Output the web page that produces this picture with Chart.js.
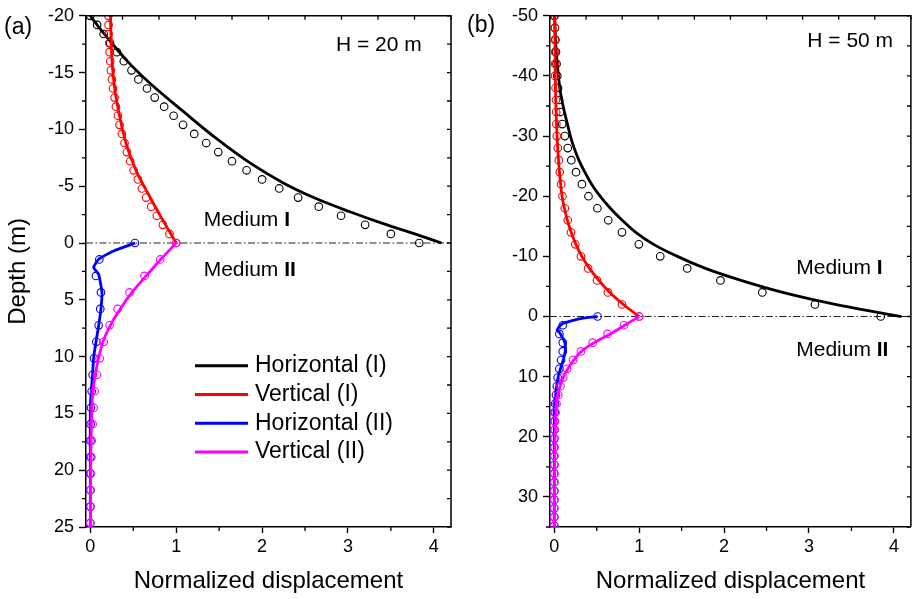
<!DOCTYPE html>
<html>
<head>
<meta charset="utf-8">
<script src="https://cdn.jsdelivr.net/npm/chart.js"></script>
<style>
  html, body { margin: 0; padding: 0; background: #fff; }
  #wrap { position: relative; width: 916px; height: 599px; }
  canvas { position: absolute; top: 0; }
  #panelA { left: 0; }
  #panelB { left: 458px; }
</style>
</head>
<body>
<div id="wrap">
  <canvas id="panelA" width="458" height="599"></canvas>
  <canvas id="panelB" width="458" height="599"></canvas>
</div>
<script>
// Series shared by both panels
const seriesLabels = ['Horizontal (I)', 'Vertical (I)', 'Horizontal (II)', 'Vertical (II)'];
const seriesColors = ['#000000', '#ff0000', '#0000ff', '#ff00ff'];
const interfaceDepth = 0;

// Panel (a), H = 20 m ---------------------------------------------------------
// circles, medium I
const depthA_I = [-20, -19.2, -18.4, -17.6, -16.8, -16, -15.2, -14.4, -13.6, -12.8, -12, -11.2, -10.4,
  -9.6, -8.8, -8, -7.2, -6.4, -5.6, -4.8, -4, -3.2, -2.4, -1.6, -0.8, 0];
const horizA_I = [0, 0.08, 0.155, 0.23, 0.31, 0.39, 0.48, 0.56, 0.66, 0.75, 0.86, 0.97, 1.08,
  1.21, 1.35, 1.49, 1.65, 1.82, 2.0, 2.2, 2.42, 2.66, 2.92, 3.2, 3.5, 3.83];
const vertA_I = [0.21, 0.213, 0.213, 0.221, 0.225, 0.233, 0.24, 0.252, 0.264, 0.283, 0.298, 0.322, 0.341,
  0.368, 0.399, 0.426, 0.465, 0.504, 0.554, 0.601, 0.651, 0.709, 0.775, 0.845, 0.922, 1.0];
// circles, medium II
const depthA_II = [0, 1.45, 2.9, 4.35, 5.8, 7.25, 8.7, 10.15, 11.6, 13.05, 14.5, 15.95, 17.4, 18.85,
  20.3, 21.75, 23.2, 24.65];
const horizA_II = [0.52, 0.105, 0.066, 0.124, 0.116, 0.097, 0.07, 0.043, 0.027, 0.016, 0.008, 0.004,
  0.002, 0.001, 0, 0, 0, 0];
const vertA_II = [1.0, 0.814, 0.632, 0.457, 0.318, 0.225, 0.155, 0.109, 0.078, 0.05, 0.039, 0.027,
  0.016, 0.012, 0.008, 0.004, 0.004, 0];
// curves
const horizA_I_lineDepth = [-20, -18.8, -17.6, -16.1, -14.06, -11.58, -9.18, -7.05, -5.29, -3.89, -2.75, -1.7, -0.82, 0];
const horizA_I_line = [0, 0.12, 0.25, 0.42, 0.695, 1.083, 1.471, 1.859, 2.247, 2.635, 3.023, 3.411, 3.77, 4.09];
const vertA_I_lineDepth = [-20, -17.4, -14.5, -11.6, -8.95, -6.6, -4.25, -2.2, -1.1, 0];
const vertA_I_line = [0.235, 0.244, 0.27, 0.33, 0.41, 0.52, 0.68, 0.83, 0.915, 1.0];
const horizA_II_lineDepth = [0, 0.7, 1.43, 2.16, 2.75, 4.36, 5.82, 7.28, 8.74, 10.06, 11.52, 12.98, 14.45, 20, 25];
const horizA_II_line = [0.523, 0.271, 0.097, 0.039, 0.097, 0.136, 0.124, 0.097, 0.066, 0.039, 0.027, 0.012, 0, 0, 0];
const vertA_II_lineDepth = [0, 1.45, 2.9, 4.35, 5.8, 7.25, 8.7, 10.15, 11.6, 13.05, 14.5, 17, 20, 25];
const vertA_II_line = [1.0, 0.82, 0.65, 0.485, 0.35, 0.233, 0.147, 0.097, 0.058, 0.031, 0.019, 0.01, 0.005, 0];

// Panel (b), H = 50 m ---------------------------------------------------------
const depthB_I = [-50, -48, -46, -44, -42, -40, -38, -36, -34, -32, -30, -28, -26, -24, -22, -20,
  -18, -16, -14, -12, -10, -8, -6, -4, -2, 0];
const horizB_I = [0, 0.008, 0.014, 0.02, 0.027, 0.035, 0.045, 0.056, 0.071, 0.094, 0.124, 0.159, 0.201,
  0.256, 0.326, 0.403, 0.508, 0.636, 0.798, 0.996, 1.248, 1.566, 1.957, 2.45, 3.07, 3.845];
const vertB_I = [0.005, 0.007, 0.007, 0.01, 0.01, 0.01, 0.015, 0.02, 0.023, 0.025, 0.03, 0.042, 0.054,
  0.065, 0.081, 0.097, 0.124, 0.159, 0.197, 0.248, 0.314, 0.399, 0.504, 0.632, 0.798, 1.0];
const depthB_II = [0, 1.45, 2.9, 4.35, 5.8, 7.25, 8.7, 10.15, 11.6, 13.05, 14.5, 15.95, 17.4, 18.85,
  20.3, 21.75, 23.2, 24.65, 26.1, 27.55, 29, 30.45, 31.9, 33.35, 34.8];
const horizB_II = [0.51, 0.10, 0.06, 0.10, 0.10, 0.08, 0.06, 0.04, 0.03, 0.02, 0.01, 0.005, 0.003,
  0.002, 0.001, 0, 0, 0, 0, 0, 0, 0, 0, 0, 0];
const vertB_II = [1.0, 0.821, 0.628, 0.453, 0.314, 0.221, 0.151, 0.105, 0.073, 0.047, 0.027, 0.015,
  0.007, 0.005, 0.004, 0.003, 0.002, 0.002, 0.001, 0.001, 0, 0, 0, 0, 0];
const horizB_I_lineDepth = [-50, -46, -42, -40, -38, -36, -34, -32, -30, -28, -26, -24, -22, -20, -18,
  -16, -14, -12, -10, -8, -6, -4, -2, -1, 0];
const horizB_I_line = [0.005, 0.015, 0.035, 0.05, 0.065, 0.09, 0.12, 0.155, 0.19, 0.235, 0.29, 0.36,
  0.44, 0.54, 0.66, 0.80, 0.96, 1.17, 1.45, 1.78, 2.20, 2.69, 3.31, 3.68, 4.09];
const vertB_I_lineDepth = [-50, -40, -34, -30, -26, -22, -20, -18, -16, -14, -12, -10, -8, -6, -4, -2, 0];
const vertB_I_line = [0.005, 0.012, 0.022, 0.033, 0.05, 0.075, 0.092, 0.12, 0.155, 0.2, 0.255, 0.325,
  0.415, 0.525, 0.655, 0.815, 1.0];
const horizB_II_lineDepth = [0, 0.35, 1.2, 2.2, 2.9, 4.25, 5.6, 7.3, 8.7, 10, 11.7, 13.1, 14.4, 20, 35];
const horizB_II_line = [0.51, 0.31, 0.093, 0.035, 0.073, 0.123, 0.131, 0.105, 0.073, 0.047, 0.027, 0.015, 0.003, 0, 0];
const vertB_II_lineDepth = [0, 1.45, 2.9, 4.35, 5.8, 7.25, 8.7, 10, 12, 14, 16, 20, 25, 35];
const vertB_II_line = [1.0, 0.83, 0.66, 0.47, 0.32, 0.23, 0.16, 0.11, 0.06, 0.03, 0.02, 0.01, 0.005, 0];

// Axis ranges
const dispRange = [-0.05, 4.2];
const depthRangeA = [-20, 25];
const depthRangeB = [-50, 35];

const FONT = '"Liberation Sans", Arial, Helvetica, sans-serif';
Chart.defaults.font.family = FONT;
Chart.defaults.color = '#000';

const pairs = (xs, ys) => xs.map((x, i) => ({ x, y: ys[i] }));

// smooth curve; 'monotone' is used where the displacement keeps growing along the curve
function curve(i, xs, ys, smooth) {
  const ds = {
    label: seriesLabels[i], data: pairs(xs, ys), showLine: true,
    borderColor: seriesColors[i], borderWidth: 2.8, pointRadius: 0, fill: false
  };
  if (smooth === 'monotone') ds.cubicInterpolationMode = 'monotone';
  else ds.tension = smooth;
  return ds;
}
function circles(i, xs, ys) {
  return {
    label: seriesLabels[i] + ' pts', data: pairs(xs, ys), showLine: false,
    borderColor: seriesColors[i], backgroundColor: 'rgba(0,0,0,0)',
    pointRadius: 3.8, pointBorderWidth: 1.1, pointStyle: 'circle'
  };
}

// draws text made of normal/bold pieces
function drawParts(ctx, parts, x, y, size, align) {
  ctx.textBaseline = 'middle';
  ctx.textAlign = 'left';
  const widths = parts.map(p => {
    ctx.font = (p.bold ? 'bold ' : '') + size + 'px ' + FONT;
    return ctx.measureText(p.text).width;
  });
  const total = widths.reduce((a, b) => a + b, 0);
  let cx = align === 'right' ? x - total : x;
  parts.forEach((p, i) => {
    ctx.font = (p.bold ? 'bold ' : '') + size + 'px ' + FONT;
    ctx.fillText(p.text, cx, y);
    cx += widths[i];
  });
}

// half-step positions between the major ticks of a scale
function halfSteps(scale) {
  const major = scale.ticks.map(t => t.value);
  const out = [];
  if (major.length < 2) return out;
  const half = Math.abs(major[1] - major[0]) / 2;
  if (!(half > 0)) return out;
  const first = Math.ceil((scale.min - 1e-9) / half);
  const last = Math.floor((scale.max + 1e-9) / half);
  for (let k = first; k <= last && out.length < 200; k++) {
    const v = k * half;
    out.push({ v, major: major.some(m => Math.abs(m - v) < 1e-6) });
  }
  return out;
}

// interface line, frame, minor ticks, notes and legend
const panelDecor = {
  id: 'panelDecor',
  beforeDatasetsDraw(chart) {
    const { ctx, chartArea: a, scales: { y } } = chart;
    const py = y.getPixelForValue(interfaceDepth);
    ctx.save();
    ctx.strokeStyle = '#222';
    ctx.lineWidth = 1;
    ctx.setLineDash([7, 2.5, 1.5, 2.5]);
    ctx.beginPath();
    ctx.moveTo(a.left, py);
    ctx.lineTo(a.right, py);
    ctx.stroke();
    ctx.restore();
  },
  afterDraw(chart, args, opts) {
    const { ctx, chartArea: a, scales: { x, y } } = chart;
    ctx.save();
    ctx.strokeStyle = '#000';
    ctx.fillStyle = '#000';
    ctx.lineWidth = 1.5;

    // top and right frame
    ctx.beginPath();
    ctx.moveTo(a.left, a.top); ctx.lineTo(a.right, a.top); ctx.lineTo(a.right, a.bottom);
    ctx.stroke();

    ctx.lineWidth = 1.3;
    ctx.beginPath();
    halfSteps(x).forEach(t => {
      const px = x.getPixelForValue(t.v);
      if (!t.major) { ctx.moveTo(px, a.bottom); ctx.lineTo(px, a.bottom + 4); }
    });
    halfSteps(y).forEach(t => {
      const py = y.getPixelForValue(t.v);
      if (!t.major) { ctx.moveTo(a.left, py); ctx.lineTo(a.left - 4, py); }
      ctx.moveTo(a.right, py); ctx.lineTo(a.right - 4, py);
    });
    for (let i = 0; i <= 10; i++) {
      const px = a.left + (a.right - a.left) * i / 10;
      ctx.moveTo(px, a.top); ctx.lineTo(px, a.top + 4);
    }
    ctx.stroke();

    // panel tag
    drawParts(ctx, [{ text: opts.tag }], opts.tagPos[0], opts.tagPos[1], 23, 'left');

    // notes placed in data coordinates
    opts.notes.forEach(n => {
      drawParts(ctx, n.parts, x.getPixelForValue(n.x), y.getPixelForValue(n.y), n.size, n.align);
    });

    // legend with line samples
    if (opts.legend) {
      const lx = a.left + opts.legend.dx;
      let ly = a.top + opts.legend.dy;
      seriesLabels.forEach((label, i) => {
        ctx.strokeStyle = seriesColors[i];
        ctx.lineWidth = 3;
        ctx.beginPath();
        ctx.moveTo(lx, ly); ctx.lineTo(lx + 53, ly);
        ctx.stroke();
        drawParts(ctx, [{ text: label }], lx + 60, ly, 23, 'left');
        ly += opts.legend.rowGap;
      });
    }
    ctx.restore();
  }
};

function makePanel(canvasId, cfg) {
  return new Chart(document.getElementById(canvasId), {
    type: 'scatter',
    data: { datasets: cfg.datasets },
    options: {
      responsive: false,
      animation: false,
      layout: { padding: { left: 0, top: 14, right: cfg.padRight, bottom: 0 } },
      plugins: {
        legend: { display: false },
        tooltip: { enabled: false },
        panelDecor: cfg.decor
      },
      scales: {
        x: {
          type: 'linear', min: dispRange[0], max: dispRange[1],
          ticks: { stepSize: 1, includeBounds: false, font: { size: 18 }, padding: 3, maxRotation: 0 },
          grid: { drawOnChartArea: false, drawTicks: true, tickLength: 6, tickColor: '#000', tickWidth: 1.4 },
          border: { display: true, color: '#000', width: 1.5 },
          title: { display: true, text: 'Normalized displacement', font: { size: 24 }, padding: { top: 0, bottom: 3 } },
          afterFit: (s) => { s.height = 72; }
        },
        y: {
          type: 'linear', reverse: true, min: cfg.depthRange[0], max: cfg.depthRange[1],
          ticks: { stepSize: cfg.depthStep, includeBounds: false, font: { size: 18 }, padding: 5 },
          grid: { drawOnChartArea: false, drawTicks: true, tickLength: 7, tickColor: '#000', tickWidth: 1.4 },
          border: { display: true, color: '#000', width: 1.5 },
          title: { display: cfg.yTitle, text: 'Depth (m)', font: { size: 24 }, padding: { top: 4, bottom: 0 } },
          afterFit: (s) => { s.width = cfg.axisWidth; }
        }
      }
    },
    plugins: [panelDecor]
  });
}

makePanel('panelA', {
  depthRange: depthRangeA, depthStep: 5, yTitle: true, axisWidth: 86, padRight: 7,
  datasets: [
    curve(3, vertA_II_line, vertA_II_lineDepth, 0.3),
    circles(3, vertA_II, depthA_II),
    curve(2, horizA_II_line, horizA_II_lineDepth, 0.15),
    circles(2, horizA_II, depthA_II),
    curve(1, vertA_I_line, vertA_I_lineDepth, 'monotone'),
    circles(1, vertA_I, depthA_I),
    curve(0, horizA_I_line, horizA_I_lineDepth, 'monotone'),
    circles(0, horizA_I, depthA_I)
  ],
  decor: {
    tag: '(a)', tagPos: [4, 28],
    legend: { dx: 109, dy: 350, rowGap: 28.7 },
    notes: [
      { parts: [{ text: 'H = 20 m' }], x: 3.86, y: -17.4, size: 21, align: 'right' },
      { parts: [{ text: 'Medium ' }, { text: 'I', bold: true }], x: 1.32, y: -2.0, size: 21, align: 'left' },
      { parts: [{ text: 'Medium ' }, { text: 'II', bold: true }], x: 1.32, y: 2.4, size: 21, align: 'left' }
    ]
  }
});

makePanel('panelB', {
  depthRange: depthRangeB, depthStep: 10, yTitle: false, axisWidth: 92, padRight: 3,
  datasets: [
    curve(3, vertB_II_line, vertB_II_lineDepth, 0.3),
    circles(3, vertB_II, depthB_II),
    curve(2, horizB_II_line, horizB_II_lineDepth, 0.15),
    circles(2, horizB_II, depthB_II),
    curve(1, vertB_I_line, vertB_I_lineDepth, 'monotone'),
    circles(1, vertB_I, depthB_I),
    curve(0, horizB_I_line, horizB_I_lineDepth, 'monotone'),
    circles(0, horizB_I, depthB_I)
  ],
  decor: {
    tag: '(b)', tagPos: [9, 26],
    legend: null,
    notes: [
      { parts: [{ text: 'H = 50 m' }], x: 3.99, y: -45.7, size: 21, align: 'right' },
      { parts: [{ text: 'Medium ' }, { text: 'I', bold: true }], x: 2.85, y: -8.1, size: 21, align: 'left' },
      { parts: [{ text: 'Medium ' }, { text: 'II', bold: true }], x: 2.85, y: 5.6, size: 21, align: 'left' }
    ]
  }
});
</script>
</body>
</html>
